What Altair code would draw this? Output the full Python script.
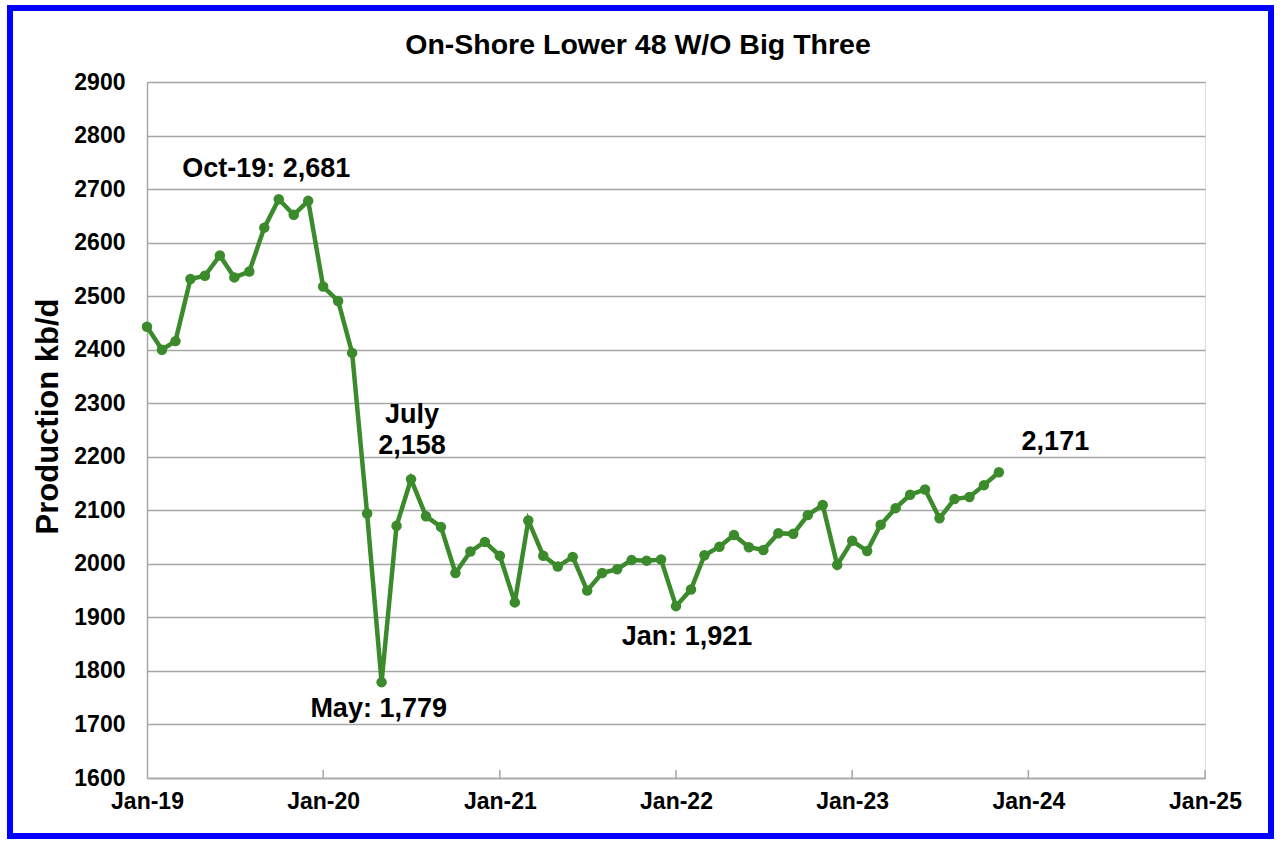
import altair as alt
import pandas as pd

# ---- data ----
months = pd.date_range("2019-01-01", periods=59, freq="MS").strftime("%Y-%m-%d").tolist()
production = [2443, 2400, 2416, 2532, 2538, 2576, 2535, 2546, 2628, 2681, 2652, 2678,
              2518, 2491, 2394, 2094, 1779, 2071, 2158, 2089, 2069, 1983, 2023, 2041,
              2015, 1928, 2081, 2015, 1995, 2013, 1950, 1983, 1990, 2007, 2006, 2008,
              1921, 1952, 2016, 2032, 2054, 2031, 2026, 2057, 2056, 2091, 2110, 1998,
              2043, 2024, 2073, 2104, 2129, 2139, 2085, 2121, 2125, 2147, 2171]

tick_years = [2019, 2020, 2021, 2022, 2023, 2024, 2025]
y_ticks = list(range(1600, 3000, 100))

title_text = "On-Shore Lower 48 W/O Big Three"
note_text = ["Oct-19: 2,681", "July", "2,158", "May: 1,779", "Jan: 1,921", "2,171"]
note_date = ["2019-09-05", "2020-07-03", "2020-07-03", "2020-04-25", "2022-01-24", "2024-02-26"]
note_value = [2722, 2263, 2206, 1714, 1848, 2212]

df = pd.DataFrame({"date": months, "value": production})
notes = pd.DataFrame({"date": note_date, "value": note_value, "text": note_text})
ticks = pd.DataFrame({"date": [f"{y}-01-01" for y in tick_years[1:]]})

FONT = "Liberation Sans"
GREEN = "#3B8A2B"
GREY = "#a6a6a6"

x_scale = alt.Scale(domain=[alt.DateTime(year=2019, month=1, date=1, utc=True),
                            alt.DateTime(year=2025, month=1, date=1, utc=True)])
y_scale = alt.Scale(domain=[1600, 2900], nice=False, zero=False)

x_axis = alt.Axis(values=[alt.DateTime(year=y, month=1, date=1, utc=True) for y in tick_years],
                  labelExpr="utcFormat(datum.value, '%b-%y')", title=None, grid=False,
                  ticks=False, domainColor=GREY, domainWidth=1.5, labelFont=FONT,
                  labelFontSize=23, labelFontWeight="bold", labelColor="black",
                  labelPadding=12, labelFlush=False, labelOverlap=False)
y_axis = alt.Axis(values=y_ticks, format="d", title="Production kb/d", grid=True,
                  gridColor=GREY, gridWidth=1.5, ticks=False, domainColor=GREY,
                  domainWidth=1.5, labelFont=FONT, labelFontSize=23,
                  labelFontWeight="bold", labelColor="black", labelPadding=22,
                  titleFont=FONT, titleFontSize=31, titleFontWeight="bold",
                  titleColor="black", titlePadding=9, titleY=334)

base = alt.Chart(df)
line = base.mark_line(color=GREEN, strokeWidth=4.5).encode(
    x=alt.X("date:T", scale=x_scale, axis=x_axis),
    y=alt.Y("value:Q", scale=y_scale, axis=y_axis),
)
pts = base.mark_circle(color=GREEN, size=110, opacity=1).encode(
    x=alt.X("date:T", scale=x_scale),
    y=alt.Y("value:Q", scale=y_scale),
)
tick_marks = alt.Chart(ticks).mark_rule(color=GREY, strokeWidth=1.5).encode(
    x=alt.X("date:T", scale=x_scale),
    y=alt.value(696), y2=alt.value(688),
)
labels = alt.Chart(notes).mark_text(font=FONT, fontSize=27, fontWeight="bold",
                                    color="black", align="center",
                                    baseline="alphabetic").encode(
    x=alt.X("date:T", scale=x_scale),
    y=alt.Y("value:Q", scale=y_scale),
    text="text:N",
)
title = alt.Chart(alt.Data(values=[{"t": title_text}])).mark_text(
    font=FONT, fontSize=28.5, fontWeight="bold", color="black", align="center",
    baseline="alphabetic").encode(
    text="t:N", x=alt.value(491), y=alt.value(-28)
)
frame = alt.Chart(alt.Data(values=[{}])).mark_rect(
    fillOpacity=0, stroke="#0000FF", strokeWidth=6).encode(
    x=alt.value(-137), x2=alt.value(1124), y=alt.value(-74), y2=alt.value(754)
)

chart = alt.layer(tick_marks, line, pts, labels, title, frame).properties(
    width=1058, height=696,
    autosize=alt.AutoSizeParams(type="none"),
    padding={"left": 147, "top": 82, "right": 75, "bottom": 75},
).configure_view(stroke=None).configure(background="white")

chart.save("out.html", embed_options={"renderer": "svg", "actions": False})
